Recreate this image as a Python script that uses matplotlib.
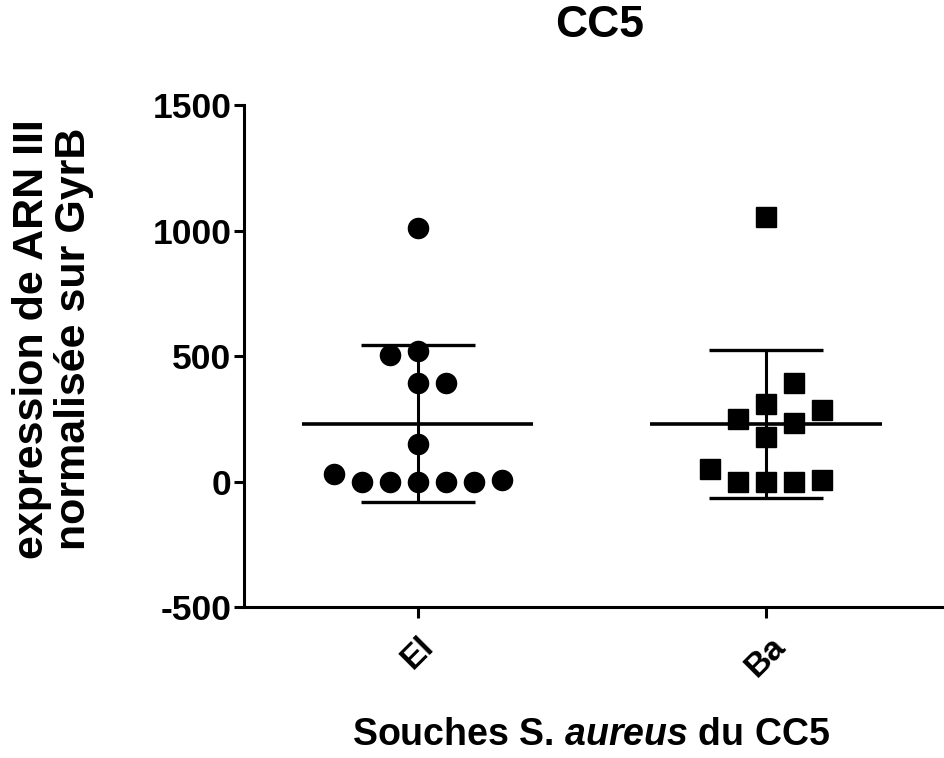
import numpy as np
import matplotlib
matplotlib.use('Agg')
import matplotlib.pyplot as plt
import matplotlib.transforms as mtransforms

plt.rcParams['font.family'] = ['Liberation Sans', 'DejaVu Sans']
plt.rcParams['font.weight'] = 'bold'
plt.rcParams['axes.unicode_minus'] = False
plt.rcParams['mathtext.fontset'] = 'custom'
plt.rcParams['mathtext.bfit'] = 'Liberation Sans:italic:bold'
plt.rcParams['mathtext.it'] = 'Liberation Sans:italic:bold'

# data
groups = ['El', 'Ba']
el_values = [1010, 520, 505, 395, 395, 150, 30, 0, 0, 0, 0, 0, 5]
ba_values = [1055, 395, 310, 285, 250, 235, 180, 50, 0, 0, 0, 5]
y_ticks = [-500, 0, 500, 1000, 1500]

title = 'CC5'
ylabel = 'expression de ARN III\nnormalisée sur GyrB'


def swarm(ax, xc, values, step_px=28, min_dist=28):
    # simple beeswarm in pixel space, lowest values placed first
    values = np.asarray(values, dtype=float)
    pts = ax.transData.transform(np.column_stack([np.full(len(values), xc), values]))
    order = np.argsort(values, kind='stable')
    placed = []
    out = pts.copy()
    for i in order:
        x0, y0 = pts[i]
        k = 0
        while True:
            n = (k + 1) // 2
            off = n * step_px if k % 2 == 1 else -n * step_px
            cand = x0 + off
            if all(np.hypot(cand - px, y0 - py) >= min_dist - 1e-6 for px, py in placed):
                break
            k += 1
        placed.append((cand, y0))
        out[i, 0] = cand
    return ax.transData.inverted().transform(out)[:, 0]


fig = plt.figure(figsize=(9.45, 7.58), dpi=100)
ax = fig.add_axes([0.258, 0.199, 0.742, 0.662])
ax.set_xlim(-0.5, 1.514)
ax.set_ylim(-500, 1500)

series = [el_values, ba_values]
markers = ['o', 's']
msizes = [14.5, 14]
for i, vals in enumerate(series):
    xs = swarm(ax, i, vals)
    mean = np.mean(vals)
    sd = np.std(vals, ddof=1)
    ax.errorbar(i, mean, yerr=sd, fmt='none', ecolor='black', elinewidth=2.2,
                capsize=41, capthick=2.4, zorder=2)
    ax.hlines(mean, i - 0.332, i + 0.332, color='black', lw=2.6, zorder=2)
    ax.plot(xs, vals, linestyle='none', marker=markers[i], ms=msizes[i],
            color='black', zorder=3)

ax.set_yticks(y_ticks)
ax.set_xticks(range(len(groups)))
ax.set_xticklabels(groups, rotation=45, ha='center', va='top')
for lab in ax.get_xticklabels():
    lab.set_transform(lab.get_transform() +
                      mtransforms.ScaledTranslation(-10 / 100, 0, fig.dpi_scale_trans))
ax.tick_params(axis='y', labelsize=25.5, length=7, width=2.2, pad=2)
ax.tick_params(axis='x', labelsize=24, length=8, width=2.2, pad=9)

for s in ['top', 'right']:
    ax.spines[s].set_visible(False)
for s in ['left', 'bottom']:
    ax.spines[s].set_linewidth(2.2)

fig.text(0.634, 0.951, title, ha='center', va='baseline', fontsize=32, fontweight='bold')
fig.text(0.056, 0.553, ylabel, rotation=90, ha='center', va='center',
         multialignment='center', fontsize=31, fontweight='bold', linespacing=1.05)
fig.text(0.626, 0.0172, r'Souches S. $\mathbfit{aureus}$ du CC5', ha='center',
         va='baseline', fontsize=27, fontweight='bold')

fig.savefig('out.png', dpi=100)
